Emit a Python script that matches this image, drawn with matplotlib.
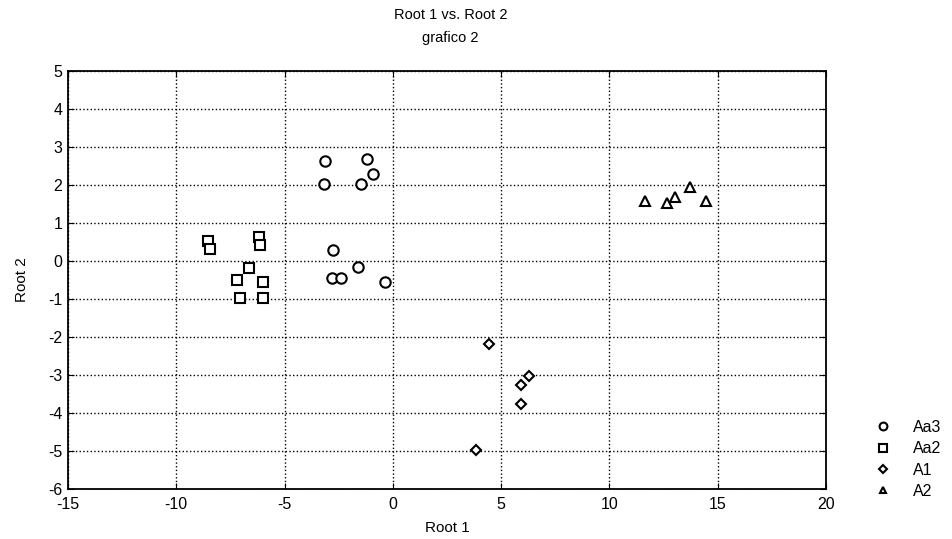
import numpy as np
import matplotlib
matplotlib.use("Agg")
from matplotlib import pyplot as plt

plt.rcParams['font.family'] = ['Liberation Sans', 'DejaVu Sans']
plt.rcParams['axes.unicode_minus'] = False

# group data (Root 1, Root 2)
aa3_x = [-3.14, -1.18, -0.91, -3.19, -1.45, -2.75, -1.63, -2.83, -2.37, -0.34]
aa3_y = [2.64, 2.68, 2.30, 2.02, 2.03, 0.28, -0.17, -0.44, -0.44, -0.55]

aa2_x = [-8.54, -8.42, -6.19, -6.14, -6.63, -7.19, -6.00, -7.06, -6.00]
aa2_y = [0.53, 0.32, 0.62, 0.41, -0.18, -0.49, -0.55, -0.98, -0.97]

a1_x = [4.43, 6.29, 5.94, 5.94, 3.83]
a1_y = [-2.18, -3.03, -3.27, -3.76, -4.97]

a2_x = [11.66, 12.68, 13.05, 13.71, 14.44]
a2_y = [1.59, 1.53, 1.69, 1.96, 1.58]

groups = ["Aa3", "Aa2", "A1", "A2"]
markers = ["o", "s", "D", "^"]
sizes = [7.5, 7.5, 5.5, 6.5]

fig = plt.figure(figsize=(9.52, 5.39), dpi=100)
ax = fig.add_axes([0.0714, 0.0928, 0.7962, 0.7755])

data = [(aa3_x, aa3_y), (aa2_x, aa2_y), (a1_x, a1_y), (a2_x, a2_y)]
for (xs, ys), name, m, s in zip(data, groups, markers, sizes):
    ax.plot(xs, ys, linestyle="none", marker=m, markersize=s, markerfacecolor="white",
            markeredgecolor="black", markeredgewidth=1.5, label=name, zorder=3)

ax.set_xlim(-15, 20)
ax.set_ylim(-6, 5)
ax.set_xticks(np.arange(-15, 21, 5))
ax.set_yticks(np.arange(-6, 6, 1))
ax.grid(True, color="black", linestyle=":", linewidth=1.0)
ax.tick_params(direction="in", top=True, right=True, length=4, labelsize=11.5)
ax.tick_params(axis="x", pad=6)
ax.tick_params(axis="y", pad=4)
for sp in ax.spines.values():
    sp.set_linewidth(1.3)

ax.set_xlabel("Root 1", fontsize=11, labelpad=6)
ax.set_ylabel("Root 2", fontsize=11, labelpad=14)
fig.text(0.473, 0.972, "Root 1 vs. Root 2", ha="center", va="center", fontsize=10.5)
fig.text(0.473, 0.929, "grafico 2", ha="center", va="center", fontsize=10.5)

ax.legend(loc="upper left", bbox_to_anchor=(0.919, 0.221), bbox_transform=fig.transFigure,
          frameon=False, fontsize=11.5, handlelength=1.0, handletextpad=1.4,
          labelspacing=0.4, markerscale=0.75, borderpad=0, borderaxespad=0)

fig.savefig("out.png", dpi=100)
